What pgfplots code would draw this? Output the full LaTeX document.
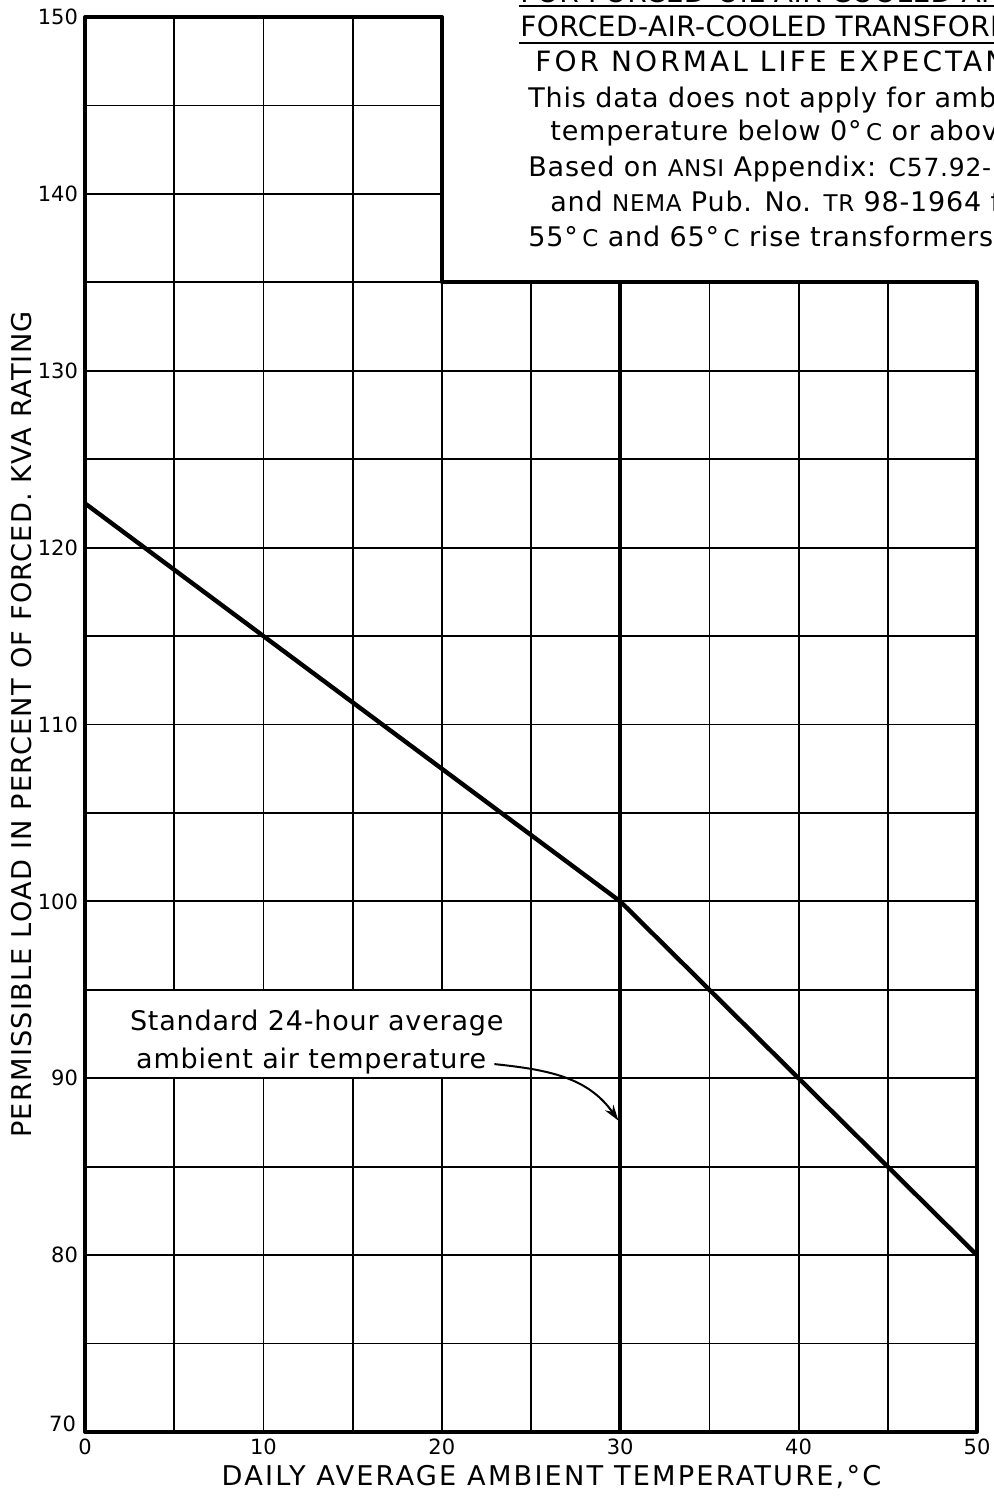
\documentclass[border=0pt]{standalone}
\usepackage{pgfplots}
\pgfplotsset{compat=1.18}
\usetikzlibrary{arrows.meta}
\usepackage{fontspec}
\setmainfont{DejaVu Sans}
\newcommand{\smc}[1]{{\fontsize{11.5}{12}\selectfont #1}}
\newcommand{\mdc}[1]{{\fontsize{12.5}{12}\selectfont #1}}
\begin{document}
\begin{tikzpicture}
\useasboundingbox (0,0) rectangle (497pt,749.5pt);
\clip (0,0) rectangle (497pt,749.5pt);
\begin{axis}[
  at={(42.5pt,33.5pt)}, anchor=south west,
  scale only axis, width=446pt, height=707.5pt,
  xmin=0, xmax=50, ymin=70, ymax=150,
  xtick={0,10,...,50}, ytick={80,90,...,150},
  extra y ticks={70},
  extra y tick style={yticklabel style={yshift=4pt, xshift=-1pt}},
  minor xtick={5,15,...,45}, minor ytick={75,85,...,145},
  grid=both,
  major grid style={black, line width=0.9pt},
  minor grid style={black, line width=0.9pt},
  major tick length=0pt, minor tick length=0pt,
  axis line style={draw=none},
  tick label style={font=\fontsize{10.5}{11}\selectfont},
  /pgf/number format/assume math mode=true,
  xlabel={DAILY AVERAGE AMBIENT TEMPERATURE,°C},
  ylabel={PERMISSIBLE LOAD IN PERCENT OF FORCED. KVA RATING},
  xlabel style={at={(axis description cs:0.523,-0.0375)}, anchor=base, inner sep=0pt,
    font=\fontsize{13.6}{14}\selectfont\addfontfeature{LetterSpace=8}},
  ylabel style={at={(axis description cs:-0.0594,0.5)}, anchor=south, inner sep=0pt,
    font=\fontsize{13.6}{14}\selectfont\addfontfeature{LetterSpace=4.5}},
  clip=false,
]
\fill[white] (axis cs:20.06,135.06) rectangle (axis cs:51,151);
\fill[white] (axis cs:0.06,90.06) rectangle (axis cs:24.94,94.94);
\draw[line width=2pt, line join=round] (axis cs:0,70) -- (axis cs:0,150) -- (axis cs:20,150) -- (axis cs:20,135) -- (axis cs:50,135) -- (axis cs:50,70) -- cycle;
\draw[line width=1.8pt] (axis cs:30,70) -- (axis cs:30,135);
\addplot[black, line width=2.2pt] coordinates {(0,122.5) (30,100) (50,80)};
\node[anchor=base west, inner sep=0pt, font=\fontsize{13.5}{15}\selectfont\addfontfeature{LetterSpace=3}] at (axis cs:2.5,92.72) {Standard 24-hour average};
\node[anchor=base west, inner sep=0pt, font=\fontsize{13.5}{15}\selectfont\addfontfeature{LetterSpace=3}] at (axis cs:2.85,90.56) {ambient air temperature};
\draw[-{Stealth[length=8pt,width=5pt]}, line width=1pt] (axis cs:22.95,90.8) to[out=-6, in=125] (axis cs:29.9,87.6);
\end{axis}
\begin{scope}[every node/.style={anchor=base west, inner sep=0pt}]
\node[font=\fontsize{14}{16}\selectfont\addfontfeature{LetterSpace=1.6}] at (260pt,748pt) {FOR FORCED-OIL-AIR-COOLED AND};
\draw[line width=1.2pt] (259.5pt,746.5pt) -- (500pt,746.5pt);
\node[font=\fontsize{14}{16}\selectfont\addfontfeature{LetterSpace=1.6}] at (260pt,731pt) {FORCED-AIR-COOLED TRANSFORMERS};
\draw[line width=1.2pt] (259.5pt,728pt) -- (500pt,728pt);
\node[font=\fontsize{14}{16}\selectfont\addfontfeature{LetterSpace=11}] at (267.5pt,713.5pt) {FOR NORMAL LIFE EXPECTANCY};
\begin{scope}[every node/.append style={font=\fontsize{13.5}{15}\selectfont\addfontfeature{LetterSpace=3}}]
\node at (264pt,695.5pt) {This data does not apply for ambient};
\node at (275pt,679pt) {temperature below 0°\,\smc{C} or above 50°\,\smc{C}};
\node at (264pt,661pt) {Based on \smc{ANSI} Appendix: \mdc{C57.92-1962}};
\node at (275pt,643.5pt) {and \smc{NEMA} Pub. No. \smc{TR} 98-1964 for};
\node at (264pt,626pt) {55°\,\smc{C} and 65°\,\smc{C} rise transformers.};
\end{scope}
\end{scope}
\end{tikzpicture}
\end{document}
